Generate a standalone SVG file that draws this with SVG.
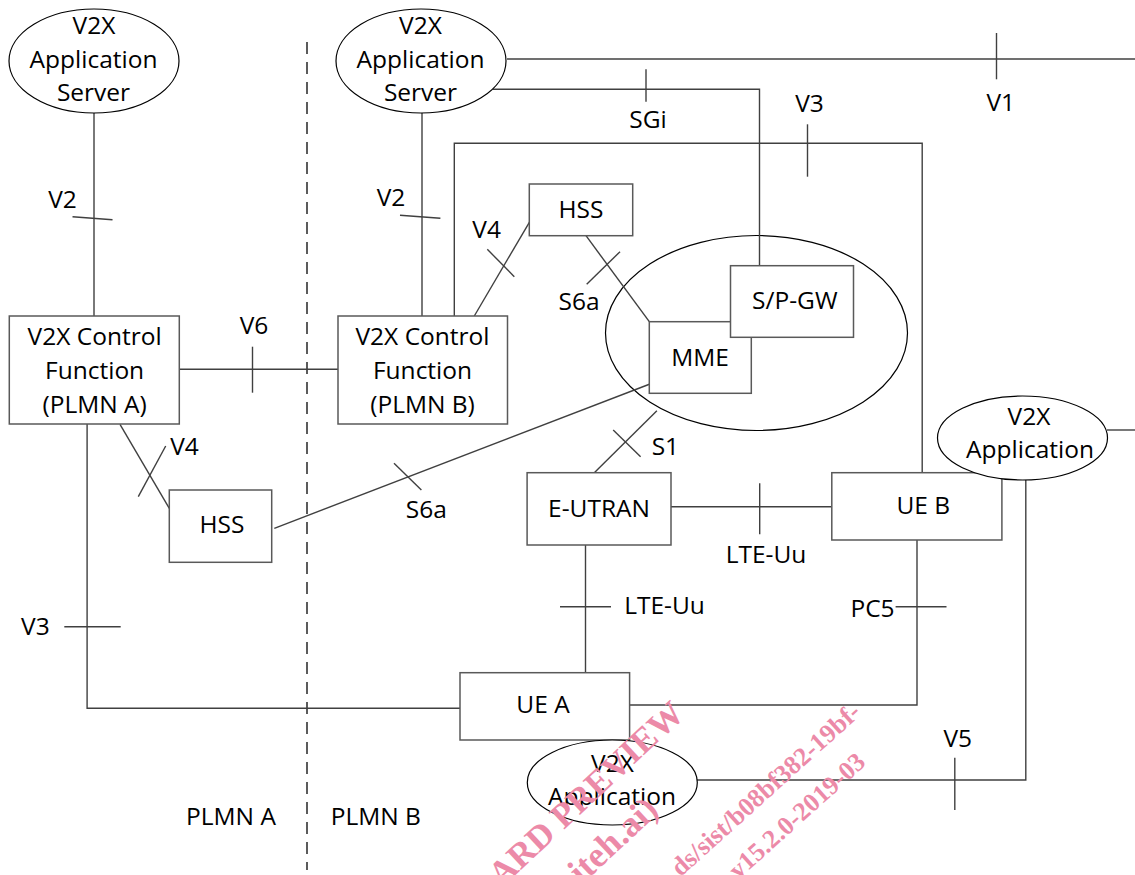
<svg xmlns="http://www.w3.org/2000/svg" width="1135" height="875" viewBox="0 0 1135 875">
<style>
.box{fill:#fff;stroke:#595959;stroke-width:1.5}
.ell{fill:#fff;stroke:#000;stroke-width:1.2}
.ln{fill:none;stroke:#404040;stroke-width:1.4}
.dash{fill:none;stroke:#333;stroke-width:1.6;stroke-dasharray:12 8}
.t{font-family:"Open Sans","Liberation Sans",sans-serif;font-size:24.5px;fill:#000;text-anchor:middle}
.wm{font-family:"Liberation Serif","DejaVu Serif",serif;font-weight:bold;fill:#ec8aa8;text-anchor:end}
</style>
<rect width="1135" height="875" fill="#fff"/>

<g id="core-ellipse">
<ellipse cx="756.5" cy="333" rx="151" ry="97.5" fill="none" stroke="#000" stroke-width="1.2"/>
</g>

<g id="connectors">
<line class="dash" x1="307" y1="42" x2="307" y2="870"/>
<!-- V2 left -->
<line class="ln" x1="94" y1="113" x2="94" y2="316"/>
<line class="ln" x1="72.5" y1="216.7" x2="112.5" y2="219.7"/>
<!-- V2 right -->
<line class="ln" x1="422" y1="113" x2="422" y2="316"/>
<line class="ln" x1="400" y1="215.3" x2="440.4" y2="218.3"/>
<!-- V1 -->
<line class="ln" x1="507" y1="59" x2="1135" y2="59"/>
<line class="ln" x1="996.5" y1="33" x2="996.5" y2="79.3"/>
<!-- SGi -->
<polyline class="ln" points="493,89.3 759.5,89.3 759.5,266"/>
<line class="ln" x1="646" y1="69.3" x2="646" y2="101.7"/>
<!-- V3 top -->
<polyline class="ln" points="454.3,316 454.3,143.3 922.2,143.3 922.2,473"/>
<line class="ln" x1="807.5" y1="124.3" x2="807.5" y2="176.7"/>
<!-- V4 right -->
<line class="ln" x1="474.3" y1="316" x2="531.7" y2="218.3"/>
<line class="ln" x1="487.3" y1="249.3" x2="514.3" y2="276.7"/>
<!-- S6a top -->
<line class="ln" x1="586" y1="235.7" x2="649.3" y2="321.7"/>
<line class="ln" x1="586.7" y1="284.3" x2="620" y2="251.7"/>
<!-- V6 -->
<line class="ln" x1="179.3" y1="369.3" x2="341" y2="369.3"/>
<line class="ln" x1="252.5" y1="346.7" x2="252.5" y2="392.7"/>
<!-- V4 left -->
<line class="ln" x1="120" y1="424.3" x2="169.3" y2="508.3"/>
<line class="ln" x1="138.3" y1="496.7" x2="165.7" y2="446"/>
<!-- S6a bottom -->
<line class="ln" x1="274.3" y1="528.3" x2="650" y2="384"/>
<line class="ln" x1="394" y1="463.3" x2="421.4" y2="490"/>
<!-- S1 -->
<line class="ln" x1="594.3" y1="472.7" x2="656.9" y2="410.7"/>
<line class="ln" x1="613.2" y1="430" x2="640.6" y2="456.7"/>
<!-- LTE-Uu horizontal -->
<line class="ln" x1="671" y1="506.7" x2="831.8" y2="506.7"/>
<line class="ln" x1="759.7" y1="483.3" x2="759.7" y2="534.3"/>
<!-- LTE-Uu vertical -->
<line class="ln" x1="585.5" y1="545" x2="585.5" y2="672.7"/>
<line class="ln" x1="560" y1="606.7" x2="611" y2="606.7"/>
<!-- PC5 -->
<polyline class="ln" points="917,540 917,705 629.6,705"/>
<line class="ln" x1="895.6" y1="606.7" x2="946.5" y2="606.7"/>
<!-- V3 left -->
<polyline class="ln" points="87.1,423.7 87.1,708.3 460,708.3"/>
<line class="ln" x1="64.3" y1="626.7" x2="120.7" y2="626.7"/>
<!-- V5 -->
<polyline class="ln" points="1025.8,480 1025.8,780 696.7,780"/>
<line class="ln" x1="954.8" y1="757.7" x2="954.8" y2="810"/>
<!-- right edge from V2X Application -->
<line class="ln" x1="1107" y1="430" x2="1135" y2="430"/>
</g>

<g id="labels">
<text class="t" x="62.5" y="208">V2</text>
<text class="t" x="391" y="206">V2</text>
<text class="t" x="486.6" y="238">V4</text>
<text class="t" x="579" y="310">S6a</text>
<text class="t" x="648" y="128">SGi</text>
<text class="t" x="809.5" y="112">V3</text>
<text class="t" x="1000.7" y="110.7">V1</text>
<text class="t" x="254" y="334.3">V6</text>
<text class="t" x="184.5" y="455">V4</text>
<text class="t" x="426.4" y="517.7">S6a</text>
<text class="t" x="665.4" y="455">S1</text>
<text class="t" x="766" y="563.3">LTE-Uu</text>
<text class="t" x="664.5" y="614.3">LTE-Uu</text>
<text class="t" x="872.5" y="617.3">PC5</text>
<text class="t" x="35.4" y="635">V3</text>
<text class="t" x="957.8" y="746.7">V5</text>
<text class="t" x="231" y="825">PLMN A</text>
<text class="t" x="375.8" y="825">PLMN B</text>
</g>

<g id="as-a">
<ellipse class="ell" cx="94" cy="61" rx="85" ry="52"/>
<text class="t" x="94" y="34.3">V2X</text>
<text class="t" x="93.5" y="68.3">Application</text>
<text class="t" x="93.5" y="101">Server</text>
</g>

<g id="as-b">
<ellipse class="ell" cx="421" cy="61" rx="85" ry="52"/>
<text class="t" x="420.5" y="34.3">V2X</text>
<text class="t" x="420.5" y="68.3">Application</text>
<text class="t" x="420.5" y="101">Server</text>
</g>

<g id="cf-a">
<rect class="box" x="9.3" y="316" width="170" height="108"/>
<text class="t" x="94.6" y="345">V2X Control</text>
<text class="t" x="94.6" y="379.3">Function</text>
<text class="t" x="94.6" y="412.5">(PLMN A)</text>
</g>

<g id="cf-b">
<rect class="box" x="338" y="316" width="169.5" height="108"/>
<text class="t" x="422.5" y="345">V2X Control</text>
<text class="t" x="422.5" y="379.3">Function</text>
<text class="t" x="422.5" y="412.5">(PLMN B)</text>
</g>

<g id="hss-b">
<rect class="box" x="529.3" y="184" width="103.4" height="51.7"/>
<text class="t" x="581" y="217.7">HSS</text>
</g>

<g id="hss-a">
<rect class="box" x="169.3" y="490" width="102.4" height="72.3"/>
<text class="t" x="222" y="532.7">HSS</text>
</g>

<g id="mme">
<rect class="box" x="649.3" y="321.7" width="102" height="71.6"/>
<text class="t" x="700" y="366">MME</text>
</g>

<g id="spgw">
<rect class="box" x="730.5" y="265.7" width="123" height="71.6"/>
<text class="t" x="794.8" y="309.3">S/P-GW</text>
</g>

<g id="e-utran">
<rect class="box" x="527.1" y="472.7" width="143.9" height="72.3"/>
<text class="t" x="599" y="516.7">E-UTRAN</text>
</g>

<g id="ue-b">
<rect class="box" x="831.8" y="472.7" width="170.1" height="67.3"/>
<text class="t" x="923.3" y="514">UE B</text>
</g>

<g id="app-b">
<ellipse class="ell" cx="1022.5" cy="438" rx="85" ry="42"/>
<text class="t" x="1029" y="425">V2X</text>
<text class="t" x="1030" y="458.3">Application</text>
</g>

<g id="ue-a">
<rect class="box" x="460" y="672.7" width="169.6" height="67.3"/>
<text class="t" x="543" y="713.3">UE A</text>
</g>

<g id="app-a">
<ellipse class="ell" cx="612.3" cy="782.5" rx="85" ry="42.5"/>
<text class="t" x="612.5" y="771.7">V2X</text>
<text class="t" x="612" y="805">Application</text>
</g>

<g id="watermark">
<text class="wm" font-size="35" transform="translate(686,716) rotate(-43)">ARD PREVIEW</text>
<text class="wm" font-size="36" transform="translate(660,812) rotate(-43)">iteh.ai)</text>
<text class="wm" font-size="26" transform="translate(862,714) rotate(-42)">ds/sist/b08bf382-19bf-</text>
<text class="wm" font-size="26" transform="translate(867,764) rotate(-42)">v15.2.0-2019-03</text>
</g>
</svg>
